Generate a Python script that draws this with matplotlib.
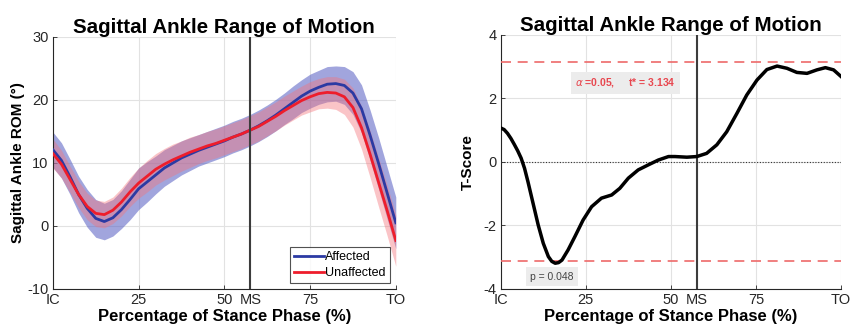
import numpy as np
import matplotlib
matplotlib.use("Agg")
import matplotlib.pyplot as plt
from matplotlib.lines import Line2D

plt.rcParams['font.family'] = ['Liberation Sans', 'DejaVu Sans']
plt.rcParams['axes.unicode_minus'] = False

# Percentage of stance phase (0 = initial contact, 100 = toe off)
stance_pct = np.arange(0, 100.1, 2.5)

# Mean sagittal ankle angle (deg)
affected_mean = [12.1, 10.4, 7.8, 5.0, 2.8, 1.2, 0.7, 1.3, 2.6, 4.2, 5.9, 7.0, 8.1, 9.2,
                 10.0, 10.8, 11.4, 12.0, 12.5, 13.0, 13.5, 14.1, 14.6, 15.2, 15.9, 16.7,
                 17.6, 18.6, 19.6, 20.6, 21.4, 22.0, 22.5, 22.6, 22.3, 21.1, 18.6, 14.4,
                 9.9, 5.2, 0.5]
unaffected_mean = [11.5, 9.8, 7.4, 5.0, 3.1, 2.0, 1.8, 2.5, 3.8, 5.4, 6.8, 7.9, 9.0, 9.8,
                   10.5, 11.1, 11.7, 12.2, 12.7, 13.1, 13.6, 14.1, 14.6, 15.2, 15.8, 16.6,
                   17.4, 18.3, 19.1, 19.9, 20.5, 21.0, 21.2, 21.1, 20.5, 18.8, 15.6, 11.4,
                   6.9, 2.4, -2.3]

# Standard deviation bands (deg)
affected_sd = [2.8, 2.8, 2.8, 2.9, 3.0, 3.0, 2.9, 2.9, 3.0, 3.2, 3.3, 3.2, 3.0, 2.9, 2.8,
               2.7, 2.6, 2.5, 2.5, 2.5, 2.5, 2.5, 2.5, 2.5, 2.5, 2.5, 2.5, 2.5, 2.6, 2.6,
               2.7, 2.7, 2.8, 2.8, 3.0, 3.4, 3.8, 4.0, 4.1, 4.1, 4.1]
unaffected_sd = [2.3, 2.2, 2.1, 2.1, 2.1, 2.1, 2.1, 2.1, 2.2, 2.3, 2.4, 2.5, 2.5, 2.5, 2.5,
                 2.4, 2.4, 2.3, 2.3, 2.3, 2.3, 2.3, 2.3, 2.3, 2.3, 2.3, 2.3, 2.3, 2.3, 2.3,
                 2.4, 2.4, 2.5, 2.6, 2.8, 3.1, 3.4, 3.7, 3.9, 4.0, 4.1]

# SPM paired t-test statistic
t_pct = [0, 1, 2, 3, 4, 5, 6, 7, 8, 9.5, 11, 12.5, 14, 15, 16, 17, 18, 19.8, 21.8, 24.2,
         26.7, 29.6, 32.6, 35, 37.5, 40.4, 43.4, 46.3, 49.3, 51.2, 54.7, 57.6, 60.5, 63.5,
         66.4, 69.4, 72.3, 75.3, 78.2, 81.2, 84.1, 87, 90, 92.9, 95.4, 97.8, 100]
t_score = [1.07, 1.02, 0.90, 0.74, 0.55, 0.35, 0.12, -0.20, -0.62, -1.30, -1.98, -2.56,
           -2.98, -3.13, -3.19, -3.17, -3.09, -2.77, -2.35, -1.83, -1.41, -1.14, -1.04,
           -0.83, -0.51, -0.25, -0.09, 0.06, 0.17, 0.17, 0.15, 0.17, 0.27, 0.54, 0.95,
           1.53, 2.11, 2.58, 2.91, 3.02, 2.95, 2.82, 2.79, 2.90, 2.97, 2.90, 2.69]
t_critical = 3.134
alpha_level = 0.05
p_value = 0.048

midstance = 57.6
x_ticks = [0, 25, 50, midstance, 75, 100]
x_labels = ['IC', '25', '50', 'MS', '75', 'TO']

title = 'Sagittal Ankle Range of Motion'
x_title = 'Percentage of Stance Phase (%)'

fig = plt.figure(figsize=(8.53, 3.36), dpi=100)
ax1 = fig.add_axes([0.062, 0.140, 0.402, 0.750])
ax2 = fig.add_axes([0.587, 0.140, 0.399, 0.756])

tick_color = '#262626'


def style_axes(ax):
    ax.set_xlim(0, 100)
    ax.set_xticks(x_ticks)
    ax.set_xticklabels(x_labels)
    ax.grid(True, color='#e2e2e2', linewidth=0.8)
    ax.set_axisbelow(True)
    for side in ('top', 'right'):
        ax.spines[side].set_visible(False)
    for side in ('left', 'bottom'):
        ax.spines[side].set_color('#262626')
        ax.spines[side].set_linewidth(0.8)
    ax.tick_params(direction='in', length=3, width=0.6, colors=tick_color,
                   labelsize=10.5, pad=3)
    ax.axvline(midstance, color='#3c3c3c', linewidth=1.5, zorder=4)
    ax.set_title(title, fontsize=14.8, fontweight='bold', pad=3)
    ax.set_xlabel(x_title, fontsize=12, fontweight='bold', labelpad=1)


# Left: mean +/- SD curves
am = np.array(affected_mean)
um = np.array(unaffected_mean)
asd = np.array(affected_sd)
usd = np.array(unaffected_sd)

ax1.fill_between(stance_pct, am - asd, am + asd, color=(0.33, 0.36, 0.76), alpha=0.55,
                 linewidth=0, zorder=2)
ax1.fill_between(stance_pct, um - usd, um + usd, color=(0.96, 0.45, 0.48), alpha=0.42,
                 linewidth=0, zorder=2)
ax1.plot(stance_pct, am, color='#2b3aa3', linewidth=2, zorder=3)
ax1.plot(stance_pct, um, color='#ee1d2b', linewidth=2, zorder=3)
ax1.set_ylim(-10, 30)
ax1.set_yticks([-10, 0, 10, 20, 30])
ax1.set_ylabel('Sagittal Ankle ROM (\u00b0)', fontsize=11, fontweight='bold', labelpad=2)
style_axes(ax1)

handles = [Line2D([], [], color='#2b3aa3', linewidth=2),
           Line2D([], [], color='#ee1d2b', linewidth=2)]
leg = ax1.legend(handles, ['Affected', 'Unaffected'], loc='lower right',
                 fontsize=9, frameon=True, fancybox=False, handlelength=2.4,
                 handletextpad=0.1, borderpad=0.3, labelspacing=0.3,
                 borderaxespad=0.5)
leg.get_frame().set_edgecolor('#262626')
leg.get_frame().set_linewidth(0.8)
leg.set_zorder(6)

# Right: SPM t-statistic
ax2.plot(t_pct, t_score, color='black', linewidth=2.5, zorder=5)
ax2.axhline(0, color='#333333', linewidth=0.8, linestyle=(0, (1, 1.5)), zorder=3)
for level in (t_critical, -t_critical):
    ax2.axhline(level, color='#ee6a6a', linewidth=1.2, linestyle=(0, (6, 4)), zorder=3)
ax2.set_ylim(-4, 4)
ax2.set_yticks([-4, -2, 0, 2, 4])
ax2.set_ylabel('T-Score', fontsize=11, fontweight='bold', labelpad=6)
style_axes(ax2)

ax2.text(36.7, 2.49, r'$\alpha$' + f' ={alpha_level:.2f},     t* = {t_critical:.3f}',
         fontsize=7.5, color='#e8474f', ha='center', va='center', fontweight='bold',
         bbox=dict(boxstyle='square,pad=0.4', facecolor='#ececec', edgecolor='none'),
         zorder=6)
ax2.text(15.1, -3.61, f'p = {p_value:.3f}', fontsize=7.5, color='#444444',
         ha='center', va='center',
         bbox=dict(boxstyle='square,pad=0.4', facecolor='#ececec', edgecolor='none'),
         zorder=6)

fig.savefig('out.png', dpi=100)
